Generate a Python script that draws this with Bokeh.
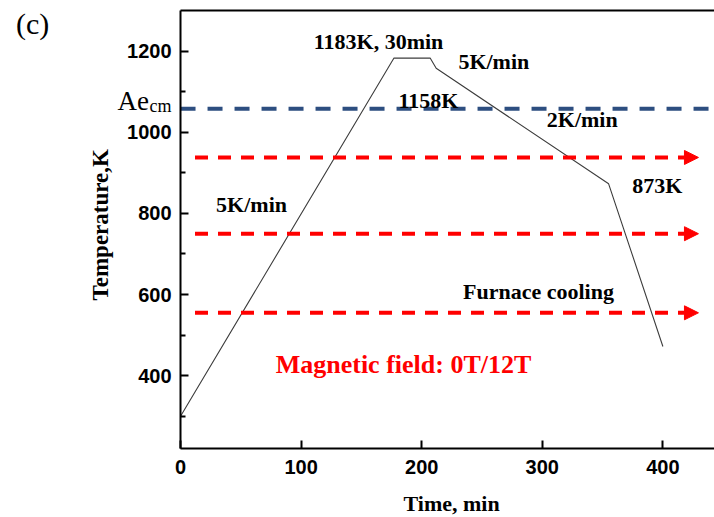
from math import pi
from bokeh.plotting import figure
from bokeh.models import (Range1d, FixedTicker, LinearAxis, Arrow, NormalHead,
                          ColumnDataSource, Label)
from bokeh.embed import file_html
from bokeh.resources import INLINE

# ---- data ----
time_min = [0, 177, 207, 212, 355, 400]
temp_K = [300, 1183, 1183, 1158, 873, 472]
ae_cm = 1058
field_levels = [938, 750, 555]
field_start = 12
field_end = 429.5
x_ticks = [0, 100, 200, 300, 400]
y_ticks = [400, 600, 800, 1000, 1200]
y_minor = [300, 500, 700, 900, 1100]
x_lo, x_hi = 0, 442.8      # axis extent (time)
y_lo, y_hi = 220, 1300     # axis extent (temperature)

SERIF = "Liberation Serif"
SANS = "Liberation Sans"
PX_PER_K = 0.40575

p = figure(width=714, height=517, output_backend="svg", toolbar_location=None,
           x_range=Range1d(-149.3, 442.8), y_range=Range1d(50.3, 1325.0),
           min_border_left=0, min_border_right=0, min_border_top=0, min_border_bottom=0,
           x_axis_type=None, y_axis_type=None)
p.grid.visible = False
p.outline_line_color = None
p.background_fill_color = "white"
p.border_fill_color = "white"

xax = LinearAxis(ticker=FixedTicker(ticks=x_ticks), fixed_location=y_lo, bounds=(x_lo, x_hi))
yax = LinearAxis(ticker=FixedTicker(ticks=y_ticks, minor_ticks=y_minor), fixed_location=x_lo,
                 bounds=(y_lo, y_hi))
for ax in (xax, yax):
    ax.axis_line_width = 2
    ax.axis_line_color = "black"
    ax.major_tick_in = 8
    ax.major_tick_out = 0
    ax.major_tick_line_width = 2
    ax.minor_tick_in = 5
    ax.minor_tick_out = 0
    ax.minor_tick_line_width = 2
    ax.major_label_text_font = SANS
    ax.major_label_text_font_style = "bold"
    ax.major_label_text_font_size = "20px"
    ax.major_label_text_color = "black"
xax.minor_tick_line_color = None
xax.major_label_standoff = 11
yax.major_label_standoff = 9
p.add_layout(xax, "below")
p.add_layout(yax, "left")

top = LinearAxis(ticker=FixedTicker(ticks=[]), fixed_location=y_hi, bounds=(x_lo, x_hi),
                 axis_line_width=2, axis_line_color="black",
                 major_tick_line_color=None, minor_tick_line_color=None,
                 major_label_text_font_size="0px")
p.add_layout(top, "above")

# heat-treatment profile
p.line(time_min, temp_K, line_color="#3c3c3c", line_width=1.1)

# Ae_cm line
p.segment(x0=[x_lo], y0=[ae_cm], x1=[x_hi], y1=[ae_cm], line_color="#2D4E80",
          line_width=4, line_dash="15 12")

# magnetic-field arrows
src = ColumnDataSource(dict(x0=[field_start] * len(field_levels), y0=field_levels,
                            x1=[field_end] * len(field_levels), y1=field_levels))
p.add_layout(Arrow(source=src, x_start="x0", y_start="y0", x_end="x1", y_end="y1",
                   line_color="#FF0000", line_width=4, line_dash="13 10",
                   end=NormalHead(size=14, fill_color="#FF0000", line_color="#FF0000",
                                  line_width=1)))

def lab(x, y, text, size, color="black", style="bold", font=SERIF, align="center",
        baseline="alphabetic", angle=0, k=0.32):
    px = float(size.replace("px", ""))
    if baseline == "alphabetic":
        y = y + k * px / PX_PER_K   # compensate renderer baseline offset
    p.add_layout(Label(x=x, y=y, text=text, text_font=font, text_font_size=size,
                       text_font_style=style, text_color=color, text_align=align,
                       text_baseline=baseline, angle=angle))

lab(164.2, 1210, "1183K, 30min", "22px", k=0.26)
lab(259.8, 1158, "5K/min", "22px")
lab(205.6, 1064, "1158K", "22px", k=0.28)
lab(333.1, 1015, "2K/min", "22px")
lab(395.3, 851, "873K", "22px")
lab(58.9, 805.5, "5K/min", "22px")
lab(296.8, 587, "Furnace cooling", "22px", k=0.36)
lab(184.9, 413, "Magnetic field: 0T/12T", "26px", color="#FF0000", k=0.24)

lab(-52.2, 1056, "Ae", "27px", style="normal", align="left", k=0.33)
lab(-25.7, 1050, "cm", "18px", style="normal", align="left", k=0.33)
lab(-122.7, 1268, "(c)", "30px", style="normal", baseline="middle")

lab(-66.3, 772, "Temperature,K", "23px", baseline="middle", angle=pi / 2)
lab(224.8, 72, "Time, min", "22px", k=0.24)

open("out.html", "w").write(file_html(p, INLINE))
